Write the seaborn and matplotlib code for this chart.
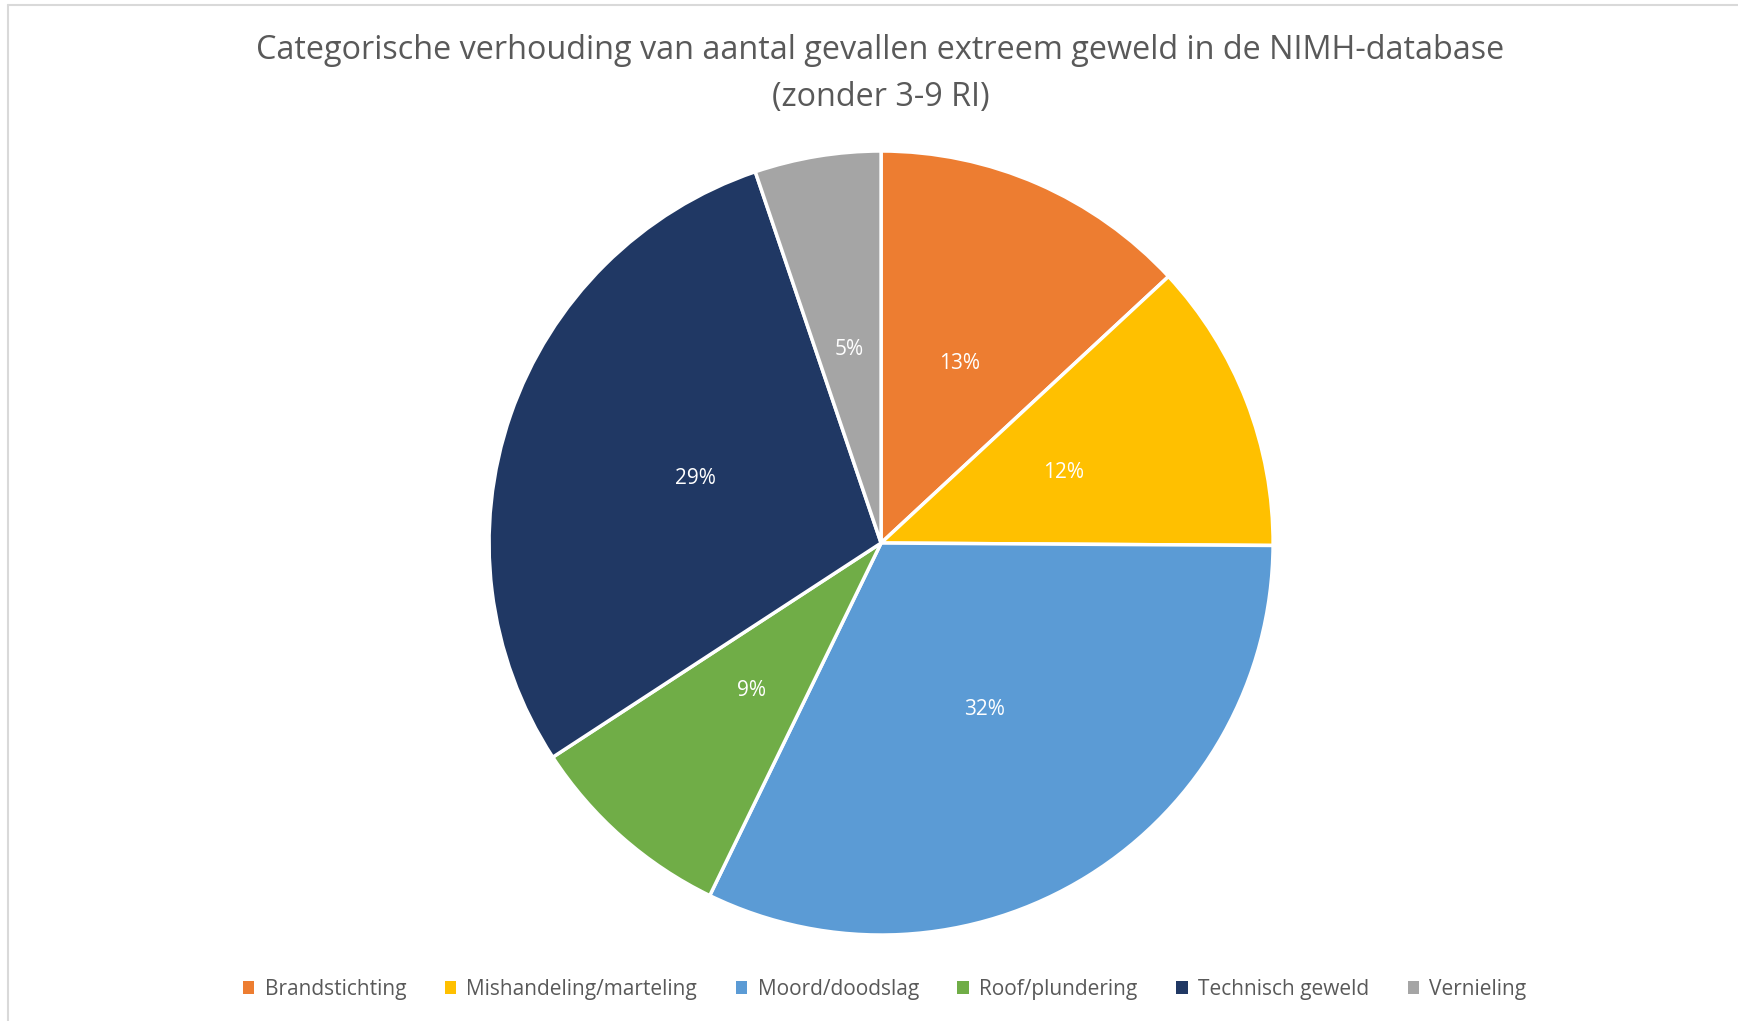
import matplotlib
matplotlib.use("Agg")
import matplotlib.pyplot as plt
from matplotlib.lines import Line2D
from matplotlib.patches import Patch
import seaborn as sns

categories = ["Brandstichting", "Mishandeling/marteling", "Moord/doodslag",
              "Roof/plundering", "Technisch geweld", "Vernieling"]
shares = [13.1, 12.0, 32.1, 8.6, 29.0, 5.2]
colors = ["#ED7D31", "#FFC000", "#5B9BD5", "#70AD47", "#203864", "#A5A5A5"]

title = "Categorische verhouding van aantal gevallen extreem geweld in de NIMH-database\n(zonder 3-9 RI)"

sns.set_theme(style="white")
plt.rcParams['font.family'] = ['Open Sans', 'DejaVu Sans']
palette = sns.color_palette(colors)

fig = plt.figure(figsize=(17.38, 10.21), dpi=100)
ax = fig.add_axes([0.2814, 0.0842, 0.4511, 0.7679])

wedges, texts, autotexts = ax.pie(
    shares, colors=palette, startangle=90, counterclock=False,
    autopct="%.0f%%", pctdistance=0.5,
    wedgeprops=dict(edgecolor="white", linewidth=2.5))
for t in autotexts:
    t.set_color("white")
    t.set_fontsize(15)
ax.set_xlim(-1, 1)
ax.set_ylim(-1, 1)
ax.set_aspect("equal")

fig.suptitle(title, x=0.5066, y=0.9275, va="center", fontsize=23.3,
             color="#595959", linespacing=1.55)

handles = [Patch(facecolor=c, edgecolor="none") for c in palette]
fig.legend(handles, categories, loc="center", bbox_to_anchor=(0.509, 0.031),
           ncol=6, frameon=False, fontsize=15, handlelength=0.55, handleheight=0.55,
           handletextpad=0.5, columnspacing=1.85, labelcolor="#595959")

# chart border (top and left edges visible)
fig.add_artist(Line2D([8 / 1738, 1.0], [1 - 5 / 1021] * 2, color="#d9d9d9", lw=1.5))
fig.add_artist(Line2D([8 / 1738] * 2, [0.0, 1 - 5 / 1021], color="#d9d9d9", lw=1.5))

fig.savefig("out.png", dpi=100)
